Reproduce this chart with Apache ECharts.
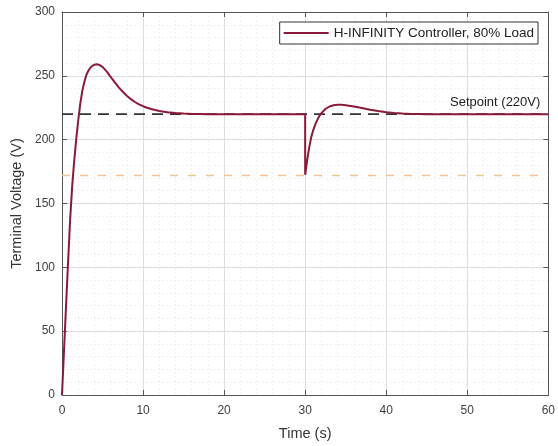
<!DOCTYPE html>
<html>
<head>
<meta charset="utf-8">
<script src="https://cdn.jsdelivr.net/npm/echarts@6/dist/echarts.min.js"></script>
<style>
html,body{margin:0;padding:0;background:#fff;}
#chart{width:558px;height:446px;}
</style>
</head>
<body>
<div id="chart"></div>
<script>
// ---- data ----
const seriesName = "H-INFINITY Controller, 80% Load";
const timeS = [0,0.25,0.5,0.75,1.0,1.25,1.5,1.75,2.0,2.25,2.5,2.75,3.0,3.25,3.5,3.75,4.0,4.3,4.6,5.0,5.5,6.0,6.5,7.0,7.5,8.0,8.5,9.0,9.5,10,10.5,11,11.5,12,13,14,15,16,17,18,20,25,30,
  30,30.25,30.5,30.75,31.0,31.25,31.5,31.75,32,32.5,33,33.5,34,34.5,35,36,37,38,39,40,41,42,43,44,45,50,55,60];
const voltage = [0,35,70,104,137,163,183,200,215,228,238,245,250.5,254,256.3,257.8,258.7,259,258.6,257,253.5,249.2,245,241,237.5,234.4,231.7,229.5,227.7,226.2,225,224,223.2,222.5,221.5,220.9,220.5,220.2,220.1,220,220,220,220,
  172.5,184,194,202,207.5,212,215.5,218.5,220.8,224,226,227,227.4,227.3,227,226,224.8,223.5,222.4,221.5,220.9,220.5,220.2,220.1,220,220,220,220];
const setpoint = 220;
const setpointLabel = "Setpoint (220V)";
const lowerLimit = 172;
const xRange = [0, 60];
const yRange = [0, 300];
const xTickStep = 10;
const yTickStep = 50;
const xTitle = "Time (s)";
const yTitle = "Terminal Voltage (V)";

const mainData = timeS.map((t, i) => [t, voltage[i]]);
const setData = xRange.map(x => [x, setpoint]);
const limData = xRange.map(x => [x, lowerLimit]);

const FONT = "Liberation Sans, Arial, sans-serif";
const axisColor = "#555";
const chart = echarts.init(document.getElementById('chart'), null, {renderer: 'canvas'});

function baseX(pos, show) {
  return {
    type: 'value', position: pos, min: xRange[0], max: xRange[1], interval: xTickStep,
    axisLine: {show: true, onZero: false, lineStyle: {color: axisColor, width: 1}},
    axisTick: {show: true, inside: true, length: 5, lineStyle: {color: axisColor}},
    axisLabel: {show: show, color: '#404040', fontFamily: FONT, fontSize: 12, margin: 10},
    splitLine: {show: show, lineStyle: {color: '#dedede', width: 1}},
    minorTick: {show: false, splitNumber: 5},
    minorSplitLine: {show: show, lineStyle: {color: '#f0f0f0', width: 1, type: [2, 2]}}
  };
}
function baseY(pos, show) {
  return {
    type: 'value', position: pos, min: yRange[0], max: yRange[1], interval: yTickStep,
    axisLine: {show: true, onZero: false, lineStyle: {color: axisColor, width: 1}},
    axisTick: {show: true, inside: true, length: 5, lineStyle: {color: axisColor}},
    axisLabel: {show: show, color: '#404040', fontFamily: FONT, fontSize: 12, margin: 7},
    splitLine: {show: show, lineStyle: {color: '#dedede', width: 1}},
    minorTick: {show: false, splitNumber: 5},
    minorSplitLine: {show: show, lineStyle: {color: '#f0f0f0', width: 1, type: [2, 2]}}
  };
}

const xa = baseX('bottom', true);
xa.name = xTitle; xa.nameLocation = 'middle'; xa.nameGap = 31;
xa.nameTextStyle = {color: '#333', fontFamily: FONT, fontSize: 14.5};
const ya = baseY('left', true);
ya.name = yTitle; ya.nameLocation = 'middle'; ya.nameGap = 36;
ya.nameTextStyle = {color: '#333', fontFamily: FONT, fontSize: 14.5};

chart.setOption({
  backgroundColor: '#ffffff',
  animation: false,
  grid: {left: 62, right: 9, top: 12, bottom: 50, containLabel: false},
  xAxis: [xa, baseX('top', false)],
  yAxis: [ya, baseY('right', false)],
  legend: {
    data: [seriesName],
    right: 20, top: 22,
    orient: 'vertical',
    backgroundColor: '#fff',
    borderColor: '#333', borderWidth: 1,
    padding: [4, 4, 4, 4],
    itemWidth: 45, itemHeight: 14,
    textStyle: {color: '#222', fontFamily: FONT, fontSize: 13.5},
    icon: 'path://M0,6 L45,6 L45,8 L0,8 Z'
  },
  series: [
    {
      name: 'limit', type: 'line', data: limData, symbol: 'none', silent: true,
      lineStyle: {color: '#f3c491', width: 1.5, type: [8, 10]}, z: 2
    },
    {
      name: 'Setpoint', type: 'line', data: setData, symbol: 'none', silent: true,
      lineStyle: {color: '#333', width: 1.8, type: [11, 7]}, z: 3,
      markLine: {
        silent: true, symbol: 'none',
        data: [{yAxis: setpoint}],
        lineStyle: {width: 0, color: 'rgba(0,0,0,0)'},
        label: {show: true, position: 'insideEndTop', formatter: setpointLabel, distance: [8, 5],
                color: '#222', opacity: 1, fontFamily: FONT, fontSize: 13}
      }
    },
    {
      name: seriesName, type: 'line', data: mainData, symbol: 'none', smooth: false,
      lineStyle: {color: '#8B1A3A', width: 2}, itemStyle: {color: '#8B1A3A'}, z: 4
    }
  ]
});
</script>
</body>
</html>
